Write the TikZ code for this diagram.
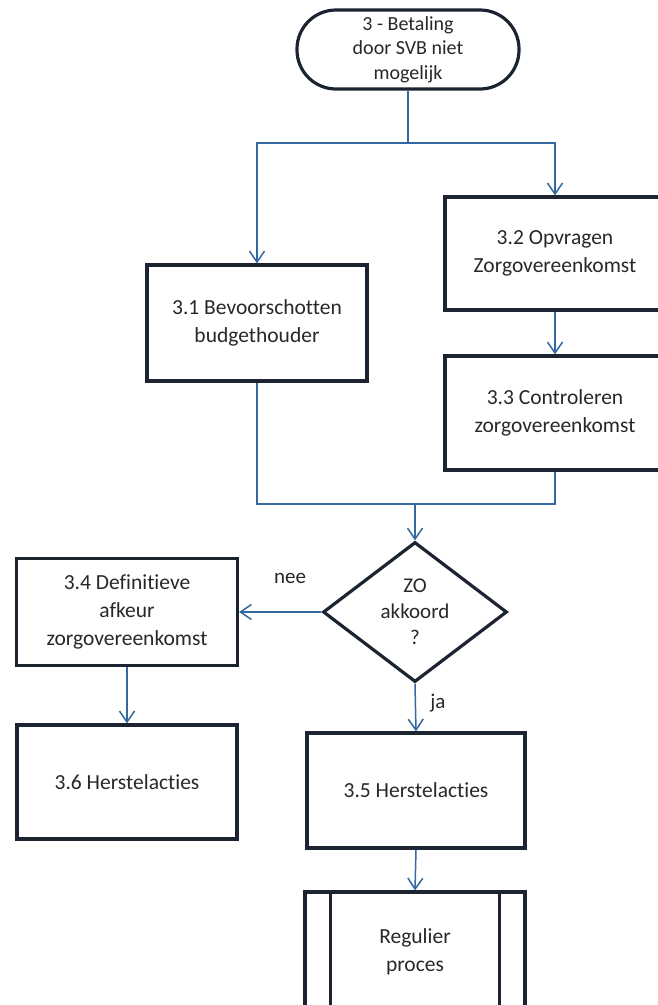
\documentclass[tikz,border=0pt]{standalone}
\usepackage{fontspec}
\setmainfont{Carlito}[Ligatures=NoCommon]
\usepackage{tikz}
\usetikzlibrary{arrows.meta,shapes.geometric}

\definecolor{linkblue}{RGB}{52,104,160}
\definecolor{boxline}{RGB}{28,36,50}
\definecolor{txtgrey}{RGB}{40,40,40}

\tikzset{
  proc/.style={draw=boxline, line width=3.2pt, fill=white, minimum width=220pt,
    align=center, text=txtgrey, font={\fontsize{21.5}{28}\selectfont}},
  term/.style={proc, rounded corners=39pt, minimum width=222pt, minimum height=79pt,
    font={\fontsize{20}{24.5}\selectfont}},
  decision/.style={diamond, draw=boxline, line width=3.2pt, fill=white, inner sep=0pt,
    minimum width=184pt, minimum height=140pt},
  link/.style={draw=linkblue, line width=1.5pt},
  arr/.style={link, -{Straight Barb[length=11pt,width=15pt]}},
  lbl/.style={text=txtgrey, font={\fontsize{21}{26}\selectfont}}
}

\begin{document}
\begin{tikzpicture}[x=1pt,y=-1pt]
    \useasboundingbox (0,0) rectangle (658,1005);
    \clip (0,0) rectangle (658,1005);
    \fill[white] (0,0) rectangle (658,1005);

    % boxes
    \node[term] (start) at (408,49.5) {3 - Betaling\\door SVB niet\\mogelijk};
    \node[proc, minimum height=116pt] (b31) at (257,323) {3.1 Bevoorschotten\\budgethouder};
    \node[proc, minimum height=113pt] (b32) at (555,253.5) {3.2 Opvragen\\Zorgovereenkomst};
    \node[proc, minimum height=114pt] (b33) at (555,413) {3.3 Controleren\\zorgovereenkomst};
    \node[decision, label={[lbl, align=center]center:ZO\\akkoord\\?}] (zo) at (415,612) {};
    \node[proc, minimum width=221pt, minimum height=107pt] (b34) at (127,612) {3.4 Definitieve\\afkeur\\zorgovereenkomst};
    \node[proc, minimum height=114pt] (b36) at (127,782) {3.6 Herstelacties};
    \node[proc, minimum width=218pt, minimum height=115pt] (b35) at (416,790.5) {3.5 Herstelacties};
    \node[proc, minimum height=120pt] (reg) at (415,952) {Regulier\\proces};
    \draw[draw=boxline, line width=3.2pt] ([xshift=27pt]reg.north west) -- ([xshift=27pt]reg.south west);
    \draw[draw=boxline, line width=3.2pt] ([xshift=-27pt]reg.north east) -- ([xshift=-27pt]reg.south east);

    % connectors
    \coordinate (split) at (408,143);
    \coordinate (merge) at (415,504);
    \draw[link] (start.south) -- (split);
    \draw[arr] (split) -| (b31.north);
    \draw[arr] (split) -| (b32.north);
    \draw[arr] (b32.south) -- (b33.north);
    \draw[link] (b31.south) |- (merge);
    \draw[link] (b33.south) |- (merge);
    \draw[arr] (merge) -- (zo.north);
    \draw[arr] (zo.west) -- (b34.east);
    \draw[arr] (b34.south) -- (b36.north);
    \draw[arr] (zo.south) -- (b35.north);
    \draw[arr] (b35.south) -- (reg.north);

    \node[lbl] (nee) at (290,578) {nee};
    \node[lbl] (ja) at (438,703) {ja};
\end{tikzpicture}
\end{document}
